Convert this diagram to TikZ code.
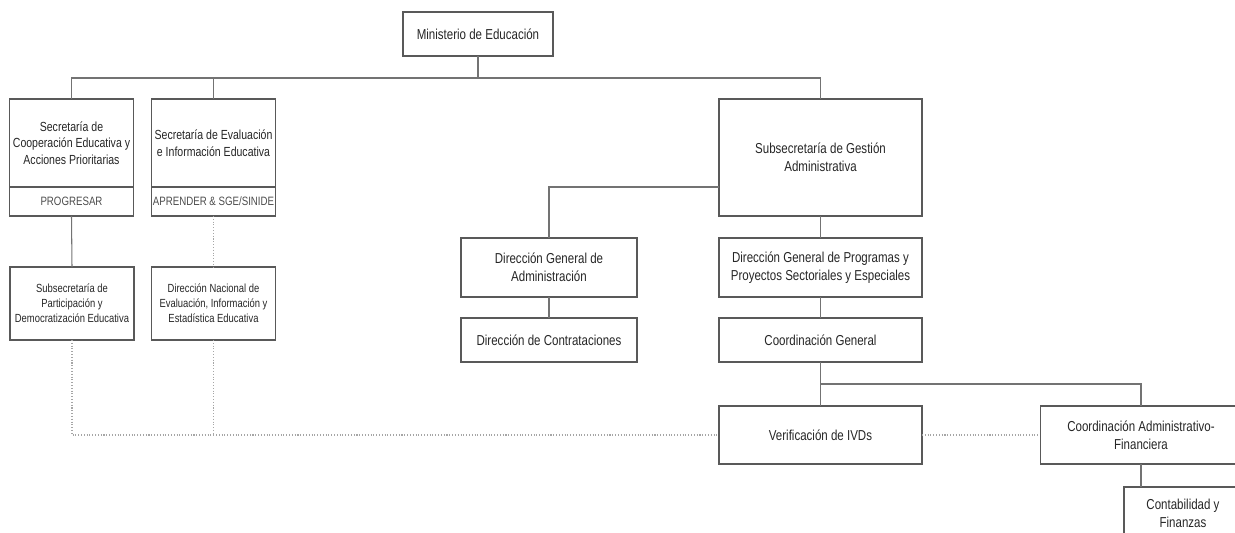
\documentclass[tikz,border=0pt]{standalone}
\usepackage{fontspec}
\setmainfont[FakeStretch=0.8]{Liberation Sans}
\usetikzlibrary{positioning}

\begin{document}
\begin{tikzpicture}[
    x=0.02cm, y=-0.02cm,
    box/.style={rectangle, draw=black!65, line width=0.6pt, outer sep=0pt, inner sep=1pt,
        align=center, text=black!85, font=\fontsize{8.2}{10.2}\selectfont},
    secbox/.style={box, minimum width=2.48cm, font=\fontsize{7.5}{9.4}\selectfont},
    progbox/.style={secbox, minimum height=0.58cm, inner sep=0pt, text=black!70, font=\fontsize{6.9}{8.5}\selectfont},
    smallbox/.style={box, minimum width=2.48cm, minimum height=1.46cm, font=\fontsize{6.7}{8.5}\selectfont},
    conn/.style={draw=black!55, line width=0.6pt},
    dotline/.style={draw=black!35, line width=0.6pt, densely dotted}
]
    \useasboundingbox (0,0) rectangle (1235,533);
    \clip (0,0) rectangle (1235,533);

    \node[box, minimum width=3cm, minimum height=0.88cm] (min) at (478,34) {Ministerio de Educación};

    % secretarias
    \node[secbox, minimum height=1.76cm] (secA) at (71.5,143) {Secretaría de\\Cooperación Educativa y\\Acciones Prioritarias};
    \node[progbox] (progA) at (71.5,201.5) {PROGRESAR};
    \node[secbox, minimum height=1.76cm] (secB) at (213.5,143) {Secretaría de Evaluación\\e Información Educativa};
    \node[progbox] (progB) at (213.5,201.5) {APRENDER \& SGE/SINIDE};

    \node[smallbox] (subA) at (72,303.5) {Subsecretaría de\\Participación y\\Democratización Educativa};
    \node[smallbox] (dirN) at (213.5,303.5) {Dirección Nacional de\\Evaluación, Información y\\Estadística Educativa};

    % gestion administrativa
    \node[box, minimum width=4.06cm, minimum height=2.34cm] (subG) at (820.5,157.5) {Subsecretaría de Gestión\\Administrativa};
    \node[box, minimum width=3.52cm, minimum height=1.18cm] (dgA) at (549,267.5) {Dirección General de\\Administración};
    \node[box, minimum width=3.52cm, minimum height=0.88cm] (dCon) at (549,340) {Dirección de Contrataciones};
    \node[box, minimum width=4.06cm, minimum height=1.18cm] (dgP) at (820.5,267.5) {Dirección General de Programas y\\Proyectos Sectoriales y Especiales};
    \node[box, minimum width=4.06cm, minimum height=0.88cm] (cGen) at (820.5,340) {Coordinación General};
    \node[box, minimum width=4.06cm, minimum height=1.16cm] (ver) at (820.5,435) {Verificación de IVDs};
    \node[box, minimum width=4.04cm, minimum height=1.16cm] (cAF) at (1141,435) {Coordinación Administrativo-\\Financiera};
    \node[box, minimum width=2.36cm, minimum height=1.6cm, text depth=0.55cm] (cont) at (1183,527) {Contabilidad y\\Finanzas};

    \coordinate (bus) at (478,78);
    \coordinate (bus2) at (820.5,384);

    \draw[conn] (min.south) -- (bus);
    \draw[conn] (secA.north) -- (secA.north |- bus) -| (subG.north);
    \draw[conn] (secB.north) -- (secB.north |- bus);
    \draw[conn] (progA.south) -- (subA.north);
    \draw[dotline] (progB.south) -- (dirN.north);

    \draw[conn] (subG.west |- progA.north) -| (dgA.north);
    \draw[conn] (dgA.south) -- (dCon.north);
    \draw[conn] (subG.south) -- (dgP.north);
    \draw[conn] (dgP.south) -- (cGen.north);
    \draw[conn] (cGen.south) -- (ver.north);
    \draw[conn] (bus2) -| (cAF.north);
    \draw[conn] (cAF.south) -- (cAF.south |- cont.north);

    % lineas punteadas
    \draw[dotline] (subA.south) |- (ver.west);
    \draw[dotline] (dirN.south) -- (dirN.south |- ver.west);
    \draw[dotline] (ver.east) -- (cAF.west);
\end{tikzpicture}
\end{document}
